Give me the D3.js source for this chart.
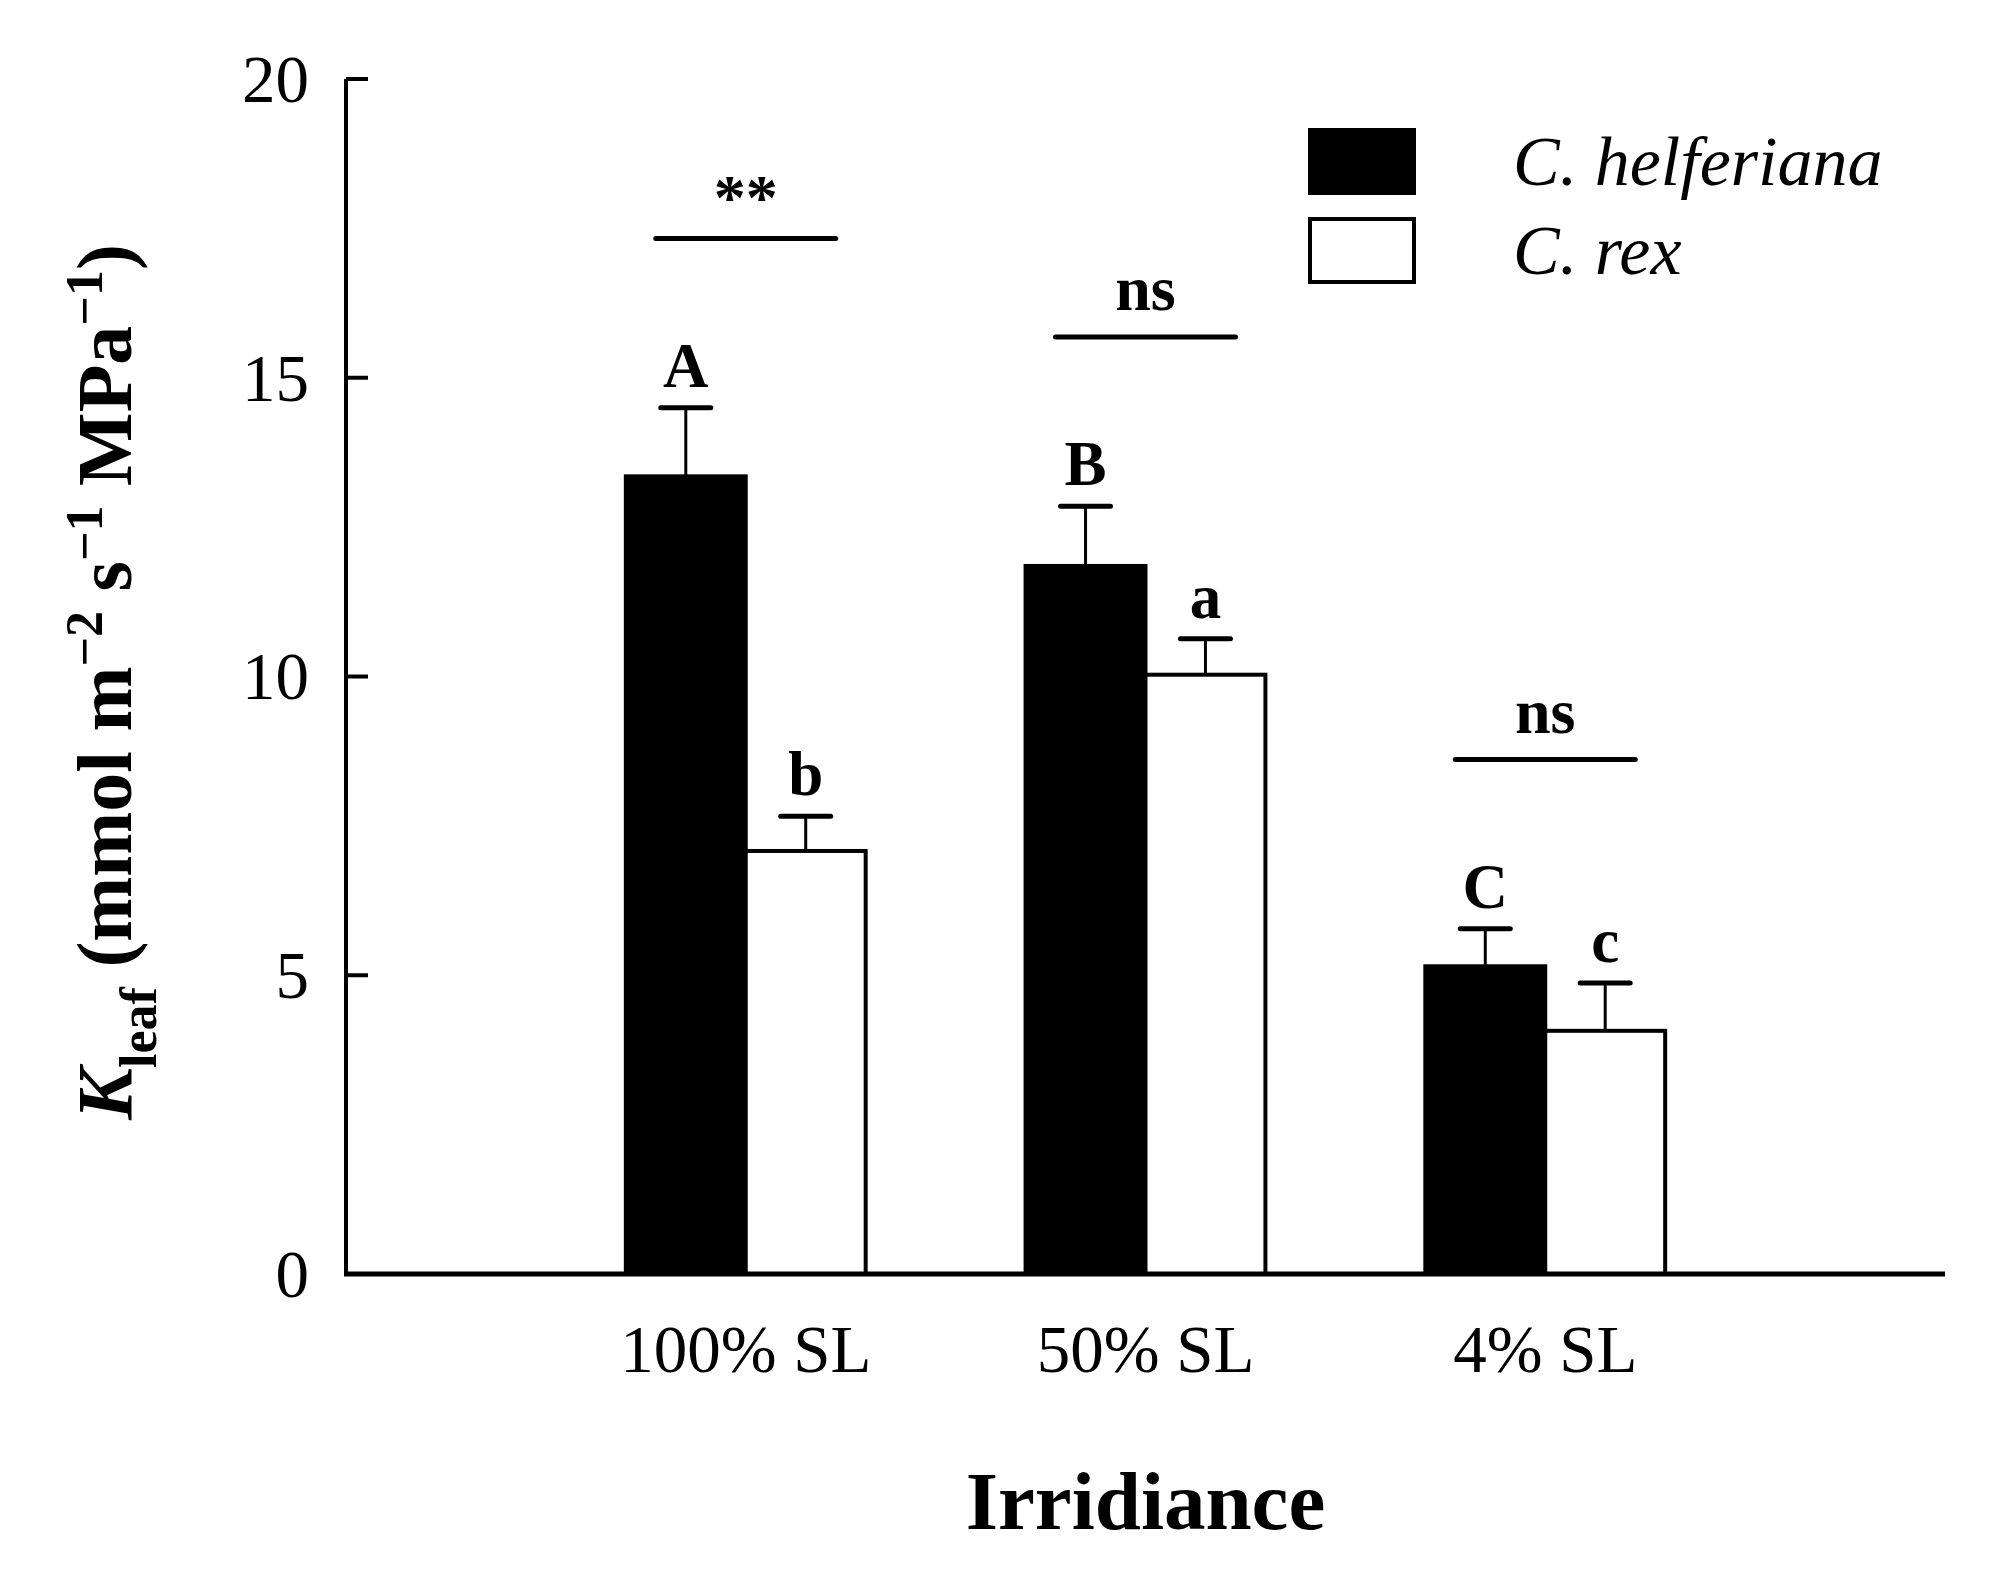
<!DOCTYPE html>
<html>
<head>
<meta charset="utf-8">
<script src="https://cdn.jsdelivr.net/npm/d3@7"></script>
<style>
  html, body { margin: 0; padding: 0; background: #fff; }
  svg { display: block; }
  text { font-family: "Liberation Serif", "Times New Roman", serif; fill: #000; }
</style>
</head>
<body>
<svg id="chart" width="1991" height="1570"></svg>
<script>
// values
const categories = ['100% SL', '50% SL', '4% SL'];
const species = ['C. helferiana', 'C. rex'];
const helferiana = [13.35, 11.85, 5.15];
const helferianaErr = [1.15, 1.0, 0.63];
const rex = [7.08, 10.03, 4.07];
const rexErr = [0.58, 0.6, 0.8];
const helferianaLetters = ['A', 'B', 'C'];
const rexLetters = ['b', 'a', 'c'];
const significance = ['**', 'ns', 'ns'];
const yTicks = [0, 5, 10, 15, 20];

const svg = d3.select('#chart');
const plotLeft = 346, plotRight = 1945, plotTop = 79, plotBottom = 1274;

const x = d3.scalePoint()
    .domain(categories)
    .range([plotLeft, plotRight])
    .padding(1);

const y = d3.scaleLinear()
    .domain([0, 20])
    .range([plotBottom, plotTop]);

const barW = x.step() * 0.3;
const fills = ['#000', '#fff'];

const rows = [];
categories.forEach((c, i) => {
    rows.push({ cat: c, s: 0, v: helferiana[i], e: helferianaErr[i], letter: helferianaLetters[i] });
    rows.push({ cat: c, s: 1, v: rex[i], e: rexErr[i], letter: rexLetters[i] });
});
const barX = d => x(d.cat) + (d.s === 0 ? -barW : 0);

// error bars (upper only)
const err = svg.append('g');
err.selectAll('line.stem')
    .data(rows)
    .enter()
    .append('line')
    .attr('x1', d => barX(d) + barW / 2)
    .attr('x2', d => barX(d) + barW / 2)
    .attr('y1', d => y(d.v))
    .attr('y2', d => y(d.v + d.e))
    .attr('stroke', '#000')
    .attr('stroke-width', 3);
err.selectAll('line.cap')
    .data(rows)
    .enter()
    .append('line')
    .attr('x1', d => barX(d) + barW / 2 - 25)
    .attr('x2', d => barX(d) + barW / 2 + 25)
    .attr('y1', d => y(d.v + d.e))
    .attr('y2', d => y(d.v + d.e))
    .attr('stroke', '#000')
    .attr('stroke-width', 5)
    .attr('stroke-linecap', 'round');

// bars
svg.append('g')
    .selectAll('rect')
    .data(rows)
    .enter()
    .append('rect')
    .attr('x', d => barX(d))
    .attr('y', d => y(d.v))
    .attr('width', barW)
    .attr('height', d => y(0) - y(d.v))
    .attr('fill', d => fills[d.s])
    .attr('stroke', '#000')
    .attr('stroke-width', 4);

// letters above bars
svg.append('g')
    .selectAll('text')
    .data(rows)
    .enter()
    .append('text')
    .attr('x', d => barX(d) + barW / 2)
    .attr('y', d => y(d.v + d.e) - 21)
    .attr('text-anchor', 'middle')
    .attr('font-size', '63px')
    .attr('font-weight', 'bold')
    .text(d => d.letter);

// significance lines between species
const sigG = svg.append('g');
categories.forEach((c, i) => {
    const topVal = Math.max(helferiana[i] + helferianaErr[i], rex[i] + rexErr[i]);
    const ly = y(topVal + 2.83);
    sigG.append('line')
        .attr('x1', x(c) - 90)
        .attr('x2', x(c) + 90)
        .attr('y1', ly)
        .attr('y2', ly)
        .attr('stroke', '#000')
        .attr('stroke-width', 5)
        .attr('stroke-linecap', 'round');
    sigG.append('text')
        .attr('x', x(c))
        .attr('y', ly - (significance[i] === '**' ? 20 : 27))
        .attr('text-anchor', 'middle')
        .attr('font-size', '64px')
        .attr('font-weight', 'bold')
        .text(significance[i]);
});

// axes
const axisG = svg.append('g');
axisG.append('line')
    .attr('x1', plotLeft).attr('x2', plotLeft)
    .attr('y1', y(20)).attr('y2', y(0) + 2)
    .attr('stroke', '#000').attr('stroke-width', 4);
axisG.append('line')
    .attr('x1', plotLeft - 2).attr('x2', plotRight)
    .attr('y1', y(0)).attr('y2', y(0))
    .attr('stroke', '#000').attr('stroke-width', 5);

axisG.selectAll('line.tick')
    .data(yTicks)
    .enter()
    .append('line')
    .attr('x1', plotLeft)
    .attr('x2', plotLeft + 22)
    .attr('y1', d => y(d))
    .attr('y2', d => y(d))
    .attr('stroke', '#000')
    .attr('stroke-width', 4);

axisG.selectAll('text.ytick')
    .data(yTicks)
    .enter()
    .append('text')
    .attr('x', plotLeft - 37)
    .attr('y', d => y(d))
    .attr('dy', '0.34em')
    .attr('text-anchor', 'end')
    .attr('font-size', '67px')
    .text(d => d);

axisG.selectAll('text.xtick')
    .data(categories)
    .enter()
    .append('text')
    .attr('x', d => x(d))
    .attr('y', 1372)
    .attr('text-anchor', 'middle')
    .attr('font-size', '67px')
    .text(d => d);

// axis titles
svg.append('text')
    .attr('x', (plotLeft + plotRight) / 2)
    .attr('y', 1529)
    .attr('text-anchor', 'middle')
    .attr('font-size', '83px')
    .attr('font-weight', 'bold')
    .text('Irridiance');

const yt = svg.append('text')
    .attr('transform', 'translate(131,682) rotate(-90)')
    .attr('text-anchor', 'middle')
    .attr('font-size', '78px')
    .attr('font-weight', 'bold');
yt.append('tspan').attr('font-style', 'italic').text('K');
yt.append('tspan').attr('font-size', '52px').attr('dy', 25).text('leaf');
yt.append('tspan').attr('dy', -25).text(' (mmol m');
yt.append('tspan').attr('font-size', '52px').attr('dy', -29).text('\u22122');
yt.append('tspan').attr('dy', 29).text(' s');
yt.append('tspan').attr('font-size', '52px').attr('dy', -29).text('\u22121');
yt.append('tspan').attr('dy', 29).text(' MPa');
yt.append('tspan').attr('font-size', '52px').attr('dy', -29).text('\u22121');
yt.append('tspan').attr('dy', 29).text(')');

// legend
const legend = svg.append('g')
    .selectAll('g')
    .data(species)
    .enter()
    .append('g')
    .attr('transform', (d, i) => `translate(1310,${130 + i * 89})`);
legend.append('rect')
    .attr('width', 104)
    .attr('height', 63)
    .attr('fill', (d, i) => fills[i])
    .attr('stroke', '#000')
    .attr('stroke-width', 4);
legend.append('text')
    .attr('x', 203)
    .attr('y', 55)
    .attr('font-size', '70px')
    .attr('font-style', 'italic')
    .text(d => d);
</script>
</body>
</html>
